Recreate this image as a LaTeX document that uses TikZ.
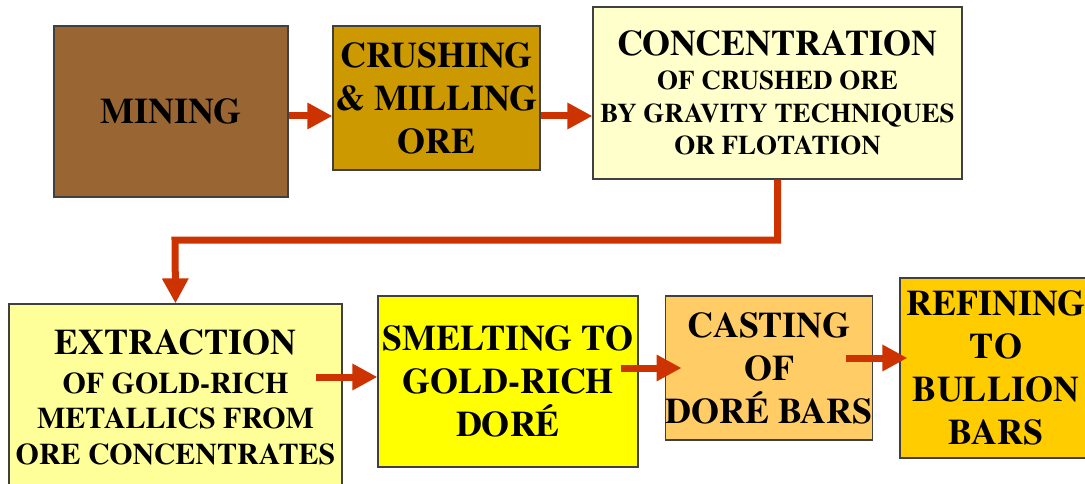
\documentclass[tikz,border=0pt]{standalone}
\usepackage{fontspec}
\setmainfont{texgyretermes}[Extension=.otf, UprightFont=*-regular, BoldFont=*-bold]
\usetikzlibrary{arrows.meta}

\definecolor{minebrown}{HTML}{996633}
\definecolor{crushgold}{HTML}{CC9900}
\definecolor{paleyellow}{HTML}{FFFFCC}
\definecolor{lightyellow}{HTML}{FFFF99}
\definecolor{pureyellow}{HTML}{FFFF00}
\definecolor{lightorange}{HTML}{FFCC66}
\definecolor{goldorange}{HTML}{FFCC00}
\definecolor{flowred}{HTML}{CC3300}

\newcommand{\subline}[1]{{\fontsize{27}{32}\selectfont #1}}
\newcommand{\midline}[1]{{\fontsize{30}{36}\selectfont #1}}

\tikzset{
  stage/.style={draw=black!75, line width=1.2pt, align=center, inner sep=0pt,
    font=\bfseries\fontsize{36}{43}\selectfont},
  flow/.style={draw=flowred, line width=7pt,
    -{Triangle[length=25pt,width=25pt]}},
}

\begin{document}
\begin{tikzpicture}[x=1pt,y=-1pt]
  \useasboundingbox (0,0) rectangle (1085,484);
  \node[stage, fill=minebrown, minimum width=234pt, minimum height=171pt] (mining) at (171,111.5) {MINING};
  \node[stage, fill=crushgold, minimum width=207pt, minimum height=144pt] (crushing) at (436.5,98) {CRUSHING\\\& MILLING\\ORE};
  \node[stage, fill=paleyellow, minimum width=369pt, minimum height=172pt] (concentration) at (777.5,93)
    {CONCENTRATION\\[-9pt]\subline{OF CRUSHED ORE}\\[-10pt]\subline{BY GRAVITY TECHNIQUES}\\[-11pt]\subline{OR FLOTATION}};
  \node[stage, fill=lightyellow, minimum width=333pt, minimum height=186pt] (extraction) at (175.5,397)
    {EXTRACTION\\[-4pt]\midline{OF GOLD-RICH}\\[-8pt]\midline{METALLICS FROM}\\[-7pt]\midline{ORE CONCENTRATES}};
  \node[stage, fill=pureyellow, minimum width=260pt, minimum height=171pt] (smelting) at (508,381.5) {SMELTING TO\\GOLD-RICH\\DOR\'E};
  \node[stage, fill=lightorange, minimum width=206pt, minimum height=144pt] (casting) at (769,368) {CASTING\\OF\\DOR\'E BARS};
  \node[stage, fill=goldorange, minimum width=192pt, minimum height=180pt] (refining) at (996,368) {REFINING\\TO\\BULLION\\BARS};

  \draw[flow] ([yshift=-4.5pt]mining.east) -- ([yshift=-4.5pt]mining.east -| crushing.west);
  \draw[flow] ([yshift=-4.5pt]mining.east -| crushing.east) -- ([yshift=-4.5pt]mining.east -| concentration.west);
  \draw[flow] (concentration.south) |- (175,240) -- (extraction.north);
  \draw[flow] ([xshift=-27pt,yshift=4.5pt]extraction.east |- smelting.west) -- ([yshift=4.5pt]smelting.west);
  \draw[flow] ([xshift=-18pt]smelting.east |- casting.west) -- ([xshift=17pt]casting.west);
  \draw[flow] ([xshift=-27pt,yshift=10pt]casting.east) -- ([xshift=8pt,yshift=10pt]refining.west);
\end{tikzpicture}
\end{document}
